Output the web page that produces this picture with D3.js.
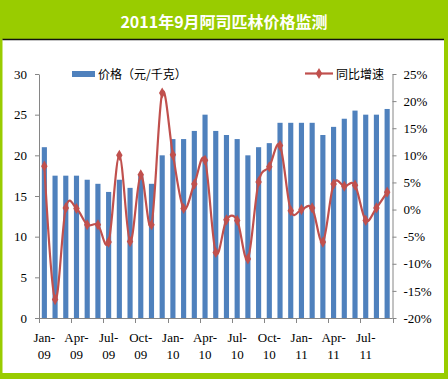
<!DOCTYPE html>
<html>
<head>
<meta charset="utf-8">
<script src="https://cdn.jsdelivr.net/npm/d3@7"></script>
<style>
  body { margin: 0; background: #99cc00; }
  svg { display: block; }
  .axis path, .axis line { stroke: #868686; }
  .axis text { font-family: "Liberation Serif", serif; font-size: 13px; fill: #000; }
</style>
</head>
<body>
<svg id="chart" width="448" height="379"></svg>
<script>
var months = ["Jan-09", "Feb-09", "Mar-09", "Apr-09", "May-09", "Jun-09", "Jul-09", "Aug-09", "Sep-09", "Oct-09", "Nov-09", "Dec-09",
  "Jan-10", "Feb-10", "Mar-10", "Apr-10", "May-10", "Jun-10", "Jul-10", "Aug-10", "Sep-10", "Oct-10", "Nov-10", "Dec-10",
  "Jan-11", "Feb-11", "Mar-11", "Apr-11", "May-11", "Jun-11", "Jul-11", "Aug-11", "Sep-11"];
// 价格（元/千克）
var price = [21, 17.5, 17.5, 17.5, 17, 16.5, 15.5, 17, 16, 17.5, 16.5, 20,
  22, 22, 23, 25, 23, 22.5, 22, 20, 21, 21.5, 24, 24,
  24, 24, 22.5, 23.5, 24.5, 25.5, 25, 25, 25.7];
// 同比增速 (%)
var growth = [8, -16.6, 0.3, 0.2, -2.8, -2.8, -6, 10, -5.9, 6.4, -2.8, 21.5,
  10.1, 0.2, 4.7, 9.1, -7.9, -1.9, -2, -9.1, 5.1, 7.9, 11.8, -0.2,
  0, 0.3, -6, 4.7, 4.3, 4.5, -2, 0.3, 3.2];
var leftTicks = [0, 5, 10, 15, 20, 25, 30];
var rightTicks = [-20, -15, -10, -5, 0, 5, 10, 15, 20, 25];

var svg = d3.select("#chart");

// frame: green title band, white panel
svg.append("rect").attr("x", 0).attr("y", 0).attr("width", 448).attr("height", 379).attr("fill", "#99cc00");
svg.append("rect").attr("x", 2.5).attr("y", 39.5).attr("width", 441.5).attr("height", 333.5).attr("fill", "#fff");
svg.append("line").attr("x1", 2.5).attr("x2", 444).attr("y1", 39.5).attr("y2", 39.5)
  .attr("stroke", "#111").attr("stroke-width", 1.3);
svg.append("text")
  .attr("x", 224).attr("y", 28)
  .attr("text-anchor", "middle")
  .style("font-family", "'Noto Sans CJK SC', sans-serif")
  .style("font-size", "16px").style("font-weight", "bold")
  .attr("fill", "#fff")
  .text("2011年9月阿司匹林价格监测");

var x = d3.scaleBand().domain(months).range([39, 392.5]).paddingInner(0.52).paddingOuter(0.26);
var yL = d3.scaleLinear().domain([0, 30]).range([318, 74]);
var yR = d3.scaleLinear().domain([-20, 25]).range([318, 74]);

// bars
svg.append("g").selectAll("rect")
  .data(price)
  .enter().append("rect")
  .attr("x", function (d, i) { return x(months[i]); })
  .attr("width", x.bandwidth())
  .attr("y", function (d) { return yL(d); })
  .attr("height", function (d) { return yL(0) - yL(d); })
  .attr("fill", "#4f81bd");

// axes
svg.append("g").attr("class", "axis")
  .attr("transform", "translate(39,0)")
  .call(d3.axisLeft(yL).tickValues(leftTicks).tickSizeInner(4).tickSizeOuter(0).tickPadding(8));
svg.append("g").attr("class", "axis")
  .attr("transform", "translate(392.5,0)")
  .call(d3.axisRight(yR).tickValues(rightTicks).tickSizeInner(4).tickSizeOuter(0).tickPadding(7)
    .tickFormat(function (d) { return d + "%"; }));

var step = x.step(), start = x(months[0]) - (step - x.bandwidth()) / 2;
var xAxis = svg.append("g").attr("class", "axis");
xAxis.append("line").attr("x1", start).attr("x2", start + step * months.length)
  .attr("y1", 318.5).attr("y2", 318.5).attr("stroke", "#868686");
xAxis.selectAll(".tick")
  .data(d3.range(0, months.length + 1, 3))
  .enter().append("line")
  .attr("x1", function (i) { return Math.round(start + i * step) + 0.5; })
  .attr("x2", function (i) { return Math.round(start + i * step) + 0.5; })
  .attr("y1", 318).attr("y2", 323).attr("stroke", "#868686");
var lbl = xAxis.selectAll(".lbl")
  .data(months.filter(function (m, i) { return i % 3 === 0; }))
  .enter().append("text")
  .attr("text-anchor", "middle")
  .attr("transform", function (m) { return "translate(" + (x(m) + x.bandwidth() / 2) + ",0)"; });
lbl.append("tspan").attr("x", 0).attr("y", 342).text(function (m) { return m.split("-")[0] + "-"; });
lbl.append("tspan").attr("x", 0).attr("y", 359).text(function (m) { return m.split("-")[1]; });

// growth line
var cx = function (d, i) { return x(months[i]) + x.bandwidth() / 2; };
var line = d3.line().x(cx).y(function (d) { return yR(d); }).curve(d3.curveCardinal.tension(0));
svg.append("path").datum(growth)
  .attr("d", line).attr("fill", "none")
  .attr("stroke", "#c0504d").attr("stroke-width", 2.2);
var diamond = d3.symbol().type(d3.symbolDiamond).size(36);
svg.append("g").selectAll("path")
  .data(growth)
  .enter().append("path")
  .attr("d", diamond)
  .attr("transform", function (d, i) { return "translate(" + cx(d, i) + "," + yR(d) + ")"; })
  .attr("fill", "#c0504d");

// legend
var leg = svg.append("g").style("font-family", "'Noto Sans CJK SC', sans-serif").style("font-size", "12px");
leg.append("rect").attr("x", 72).attr("y", 71).attr("width", 23).attr("height", 6).attr("fill", "#4f81bd");
leg.append("text").attr("x", 98).attr("y", 78.5).text("价格（元/千克）");
leg.append("line").attr("x1", 305).attr("x2", 333).attr("y1", 73.5).attr("y2", 73.5)
  .attr("stroke", "#c0504d").attr("stroke-width", 2.2);
leg.append("path").attr("d", diamond).attr("transform", "translate(319,73.5)").attr("fill", "#c0504d");
leg.append("text").attr("x", 336).attr("y", 78.5).text("同比增速");
</script>
</body>
</html>
